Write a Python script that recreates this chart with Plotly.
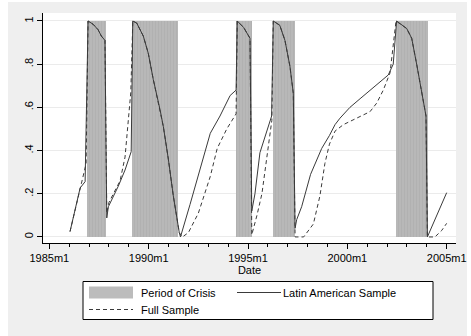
import plotly.graph_objects as go

# ---------------- data ----------------
crisis_start = [1986.9, 1989.16, 1994.4, 1996.24, 2002.43]
crisis_end = [1987.85, 1991.5, 1995.19, 1997.37, 2004.04]
crisis_level = [1, 1, 1, 1, 1]

latin_x = [1986.04, 1986.55, 1986.8, 1986.95, 1987.2, 1987.45, 1987.62, 1987.8, 1987.89,
           1987.97, 1988.47, 1988.81, 1989.12, 1989.2,
           1989.4, 1989.73, 1989.98, 1990.23, 1990.57, 1990.74, 1990.99, 1991.24, 1991.54,
           1991.6, 1992.08, 1992.58, 1993.1, 1993.59, 1994.1, 1994.4, 1994.46,
           1994.78, 1995.1, 1995.19,
           1995.35, 1995.6, 1995.85, 1996.19, 1996.27,
           1996.6, 1996.86, 1997.11, 1997.28, 1997.37,
           1997.45, 1997.7, 1998.15, 1998.71, 1999.1, 1999.38, 1999.63, 2000.13, 2000.64,
           2001.14, 2001.64, 2002.06, 2002.31, 2002.4, 2002.48,
           2002.99, 2003.24, 2003.49, 2003.74, 2003.96, 2004.03,
           2004.41, 2004.75, 2005.0]
latin_y = [0.025, 0.227, 0.256, 1.0, 0.985, 0.96, 0.93, 0.91, 0.088,
           0.14, 0.235, 0.31, 0.395, 1.0,
           0.99, 0.93, 0.85, 0.73, 0.59, 0.51, 0.36, 0.19, 0.02,
           0.0, 0.15, 0.31, 0.48, 0.56, 0.655, 0.68, 1.0,
           0.97, 0.92, 0.12,
           0.2, 0.39, 0.46, 0.56, 1.0,
           0.98, 0.91, 0.79, 0.665, 0.04,
           0.08, 0.14, 0.29, 0.41, 0.47, 0.52, 0.55, 0.60, 0.64,
           0.68, 0.72, 0.75, 0.80, 0.90, 1.0,
           0.965, 0.92, 0.80, 0.68, 0.56, 0.0,
           0.08, 0.156, 0.205]

full_x = [1986.04, 1986.85, 1986.95, 1987.2, 1987.45, 1987.62, 1987.8, 1987.89,
          1988.0, 1988.56, 1988.81, 1988.98, 1989.1, 1989.2,
          1989.4, 1989.73, 1989.98, 1990.23, 1990.57, 1990.74, 1990.99, 1991.24, 1991.54,
          1991.7, 1992.0, 1992.5, 1993.1, 1993.45, 1993.93, 1994.4, 1994.46,
          1994.78, 1995.1, 1995.19,
          1995.45, 1995.7, 1995.95, 1996.2, 1996.27,
          1996.6, 1996.86, 1997.11, 1997.28, 1997.37,
          1997.8, 1998.29, 1998.62, 1998.87, 1999.1, 1999.38, 1999.8, 2000.13, 2000.64,
          2001.14, 2001.48, 2001.81, 2002.15, 2002.31, 2002.45,
          2002.99, 2003.24, 2003.49, 2003.74, 2003.96, 2004.03,
          2004.41, 2004.75, 2005.0]
full_y = [0.025, 0.34, 1.0, 0.985, 0.96, 0.93, 0.91, 0.11,
          0.16, 0.26, 0.37, 0.54, 0.67, 1.0,
          0.99, 0.93, 0.85, 0.73, 0.59, 0.51, 0.36, 0.19, 0.02,
          0.0, 0.02, 0.11, 0.28, 0.41, 0.5, 0.57, 1.0,
          0.97, 0.92, 0.01,
          0.1, 0.2, 0.37, 0.54, 1.0,
          0.98, 0.91, 0.79, 0.665, 0.0,
          0.0, 0.06, 0.19, 0.34, 0.43, 0.49, 0.52, 0.535, 0.56,
          0.58, 0.62, 0.68, 0.76, 0.88, 1.0,
          0.965, 0.92, 0.80, 0.68, 0.56, 0.0,
          0.0, 0.03, 0.063]

x_tickvals = [1985, 1990, 1995, 2000, 2005]
x_ticktext = ["1985m1", "1990m1", "1995m1", "2000m1", "2005m1"]
y_tickvals = [0, 0.2, 0.4, 0.6, 0.8, 1.0]
y_ticktext = ["0", ".2", ".4", ".6", ".8", "1"]

legend_labels = ["Period of Crisis", "Latin American Sample", "Full Sample"]

# ---------------- figure ----------------
FONT = "Liberation Sans, Arial, sans-serif"
LINE = "#3a3a3a"
BARC = "#b4b4b4"

fig = go.Figure()
fig.add_trace(go.Bar(
    x=crisis_start, y=crisis_level,
    width=[e - s for s, e in zip(crisis_start, crisis_end)],
    offset=0, base=0,
    name=legend_labels[0], showlegend=False,
    marker=dict(color=BARC, line=dict(width=0),
                pattern=dict(shape="|", fgcolor="#a9a9a9", bgcolor="#b8b8b8",
                             size=3, solidity=0.3)),
))
fig.add_trace(go.Scatter(
    x=latin_x, y=latin_y, mode="lines", name=legend_labels[1], showlegend=False,
    line=dict(color=LINE, width=1),
))
fig.add_trace(go.Scatter(
    x=full_x, y=full_y, mode="lines", name=legend_labels[2], showlegend=False,
    line=dict(color=LINE, width=1, dash="4px,3px"),
))

W, H = 471, 336
L, R, T, B = 43, 15, 13, 93
pw, ph = W - L - R, H - T - B


def px(x):
    return (x - L) / pw


def py(y):
    return (T + ph - y) / ph


shapes = [
    # thin white frame around the light-grey graph region
    dict(type="rect", xref="paper", yref="paper", layer="above",
         x0=px(0), x1=px(8), y0=py(H), y1=py(0), fillcolor="white", line=dict(width=0)),
    dict(type="rect", xref="paper", yref="paper", layer="above",
         x0=px(467), x1=px(W), y0=py(H), y1=py(0), fillcolor="white", line=dict(width=0)),
    dict(type="rect", xref="paper", yref="paper", layer="above",
         x0=px(0), x1=px(W), y0=py(2), y1=py(0), fillcolor="white", line=dict(width=0)),
    # legend box
    dict(type="rect", xref="paper", yref="paper", layer="above",
         x0=px(83), x1=px(433), y0=py(319.5), y1=py(281.5),
         fillcolor="white", line=dict(color="black", width=1)),
    # crisis swatch
    dict(type="rect", xref="paper", yref="paper", layer="above",
         x0=px(89), x1=px(133), y0=py(298.5), y1=py(286.5),
         fillcolor="#bcbcbc", line=dict(width=0)),
    # solid line swatch
    dict(type="line", xref="paper", yref="paper", layer="above",
         x0=px(237), x1=px(281), y0=py(292.5), y1=py(292.5),
         line=dict(color=LINE, width=1)),
    # dashed line swatch
    dict(type="line", xref="paper", yref="paper", layer="above",
         x0=px(89), x1=px(133), y0=py(309.5), y1=py(309.5),
         line=dict(color=LINE, width=1, dash="4px,3px")),
]
annotations = [
    dict(text=legend_labels[0], xref="paper", yref="paper", x=px(139), y=py(293),
         xanchor="left", yanchor="middle", showarrow=False),
    dict(text=legend_labels[1], xref="paper", yref="paper", x=px(281), y=py(293),
         xanchor="left", yanchor="middle", showarrow=False),
    dict(text=legend_labels[2], xref="paper", yref="paper", x=px(139), y=py(309.5),
         xanchor="left", yanchor="middle", showarrow=False),
]

fig.update_layout(
    width=W, height=H,
    margin=dict(l=L, r=R, t=T, b=B, pad=0, autoexpand=False),
    paper_bgcolor="#efefef",
    plot_bgcolor="white",
    font=dict(family=FONT, size=11, color="black"),
    bargap=0,
    showlegend=False,
    shapes=shapes,
    annotations=annotations,
)
fig.update_xaxes(
    range=[1984.68, 2005.47],
    tickvals=x_tickvals, ticktext=x_ticktext,
    ticks="outside", ticklen=5, tickwidth=1, tickcolor="black",
    minor=dict(dtick=1, tick0=1985, ticks="outside", ticklen=3, tickcolor="black", showgrid=False),
    showline=True, linecolor="black", linewidth=1,
    showgrid=False, zeroline=False,
    title=dict(text="Date", font=dict(family=FONT, size=11), standoff=2),
)
fig.update_yaxes(
    range=[-0.028, 1.037],
    tickvals=y_tickvals, ticktext=y_ticktext, tickangle=-90,
    ticks="outside", ticklen=5, tickwidth=1, tickcolor="black",
    showline=True, linecolor="black", linewidth=1,
    showgrid=True, gridcolor="#ebebeb", gridwidth=1, zeroline=False,
)

fig.write_html("out.html")
